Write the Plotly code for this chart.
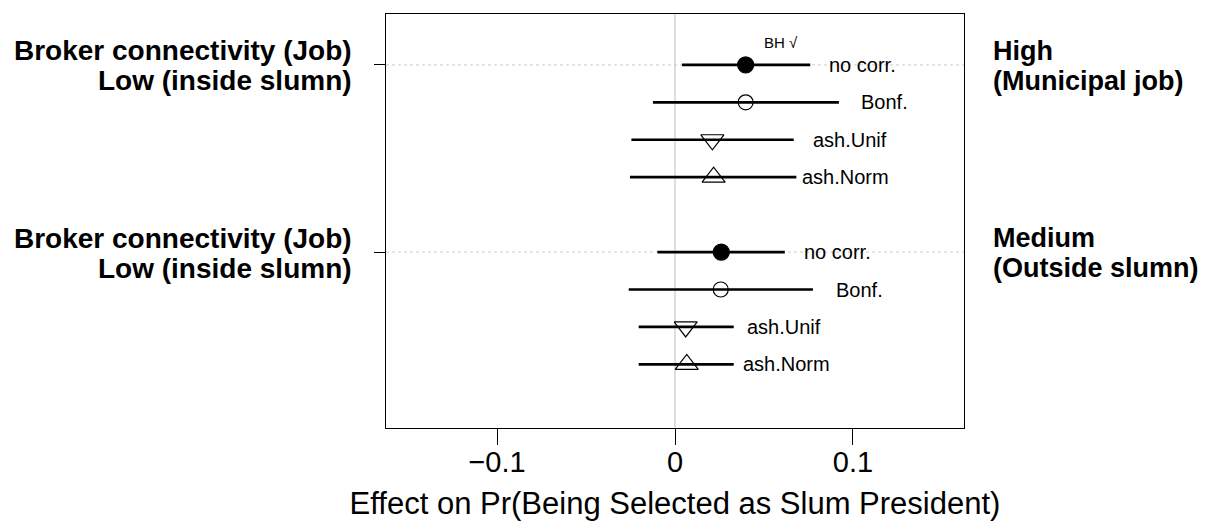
import plotly.graph_objects as go

methods = ["no corr.", "Bonf.", "ash.Unif", "ash.Norm"]
group_left = ["Broker connectivity (Job)", "Broker connectivity (Job)"]
group_left2 = ["Low (inside slumn)", "Low (inside slumn)"]
group_right = ["High", "Medium"]
group_right2 = ["(Municipal job)", "(Outside slumn)"]

est_high = [0.0397, 0.0397, 0.0210, 0.0217]
lo_high = [0.0039, -0.0124, -0.0245, -0.0253]
hi_high = [0.0760, 0.0921, 0.0667, 0.0682]

est_med = [0.0260, 0.0257, 0.0060, 0.0066]
lo_med = [-0.0099, -0.0260, -0.0204, -0.0204]
hi_med = [0.0617, 0.0775, 0.0330, 0.0330]

x_ticks = [-0.1, 0, 0.1]
x_ticktext = ["\u22120.1", "0", "0.1"]
x_title = "Effect on Pr(Being Selected as Slum President)"
bh_mark = "BH \u221a"

# styling
symbols = ["circle", "circle-open", "triangle-down-open", "triangle-up-open"]
msizes = [16, 15, 20, 20]
label_gap = [[17, 20, 17, 4], [17, 21, 11, 7]]
FONT = "Liberation Sans, Arial, sans-serif"

fig = go.Figure()
annotations = []
groups = [(est_high, lo_high, hi_high), (est_med, lo_med, hi_med)]
for g, (est, lo, hi) in enumerate(groups):
    for k in range(len(methods)):
        y = g * 5 + k
        fig.add_trace(go.Scatter(
            x=[est[k]], y=[y], mode="markers",
            marker=dict(symbol=symbols[k], size=msizes[k], color="black",
                        line=dict(color="black", width=1.2)),
            error_x=dict(type="data", symmetric=False,
                         array=[hi[k] - est[k]], arrayminus=[est[k] - lo[k]],
                         color="black", thickness=2.7, width=0),
            showlegend=False, hoverinfo="skip"))
        annotations.append(dict(x=hi[k], y=y, xref="x", yref="y", text=methods[k],
                                showarrow=False, xanchor="left", yanchor="middle",
                                xshift=label_gap[g][k],
                                font=dict(family=FONT, size=20, color="black")))
    y0 = g * 5
    annotations.append(dict(x=0, y=y0, xref="paper", yref="y", text=group_left[g],
                            showarrow=False, xanchor="right", yanchor="middle",
                            xshift=-32, yshift=14,
                            font=dict(family=FONT, size=28, color="black", weight="bold")))
    annotations.append(dict(x=0, y=y0, xref="paper", yref="y", text=group_left2[g],
                            showarrow=False, xanchor="right", yanchor="middle",
                            xshift=-32, yshift=-16,
                            font=dict(family=FONT, size=28, color="black", weight="bold")))
    annotations.append(dict(x=1, y=y0, xref="paper", yref="y", text=group_right[g],
                            showarrow=False, xanchor="left", yanchor="middle",
                            xshift=27, yshift=14,
                            font=dict(family=FONT, size=27, color="black", weight="bold")))
    annotations.append(dict(x=1, y=y0, xref="paper", yref="y", text=group_right2[g],
                            showarrow=False, xanchor="left", yanchor="middle",
                            xshift=27, yshift=-16,
                            font=dict(family=FONT, size=27, color="black", weight="bold")))

annotations.append(dict(x=est_high[0], y=0, xref="x", yref="y", text=bh_mark,
                        showarrow=False, xanchor="center", yanchor="middle",
                        xshift=35, yshift=22,
                        font=dict(family=FONT, size=15, color="black")))

shapes = [
    dict(type="line", xref="x", yref="paper", x0=0, x1=0, y0=0, y1=1,
         line=dict(color="#bdbdbd", width=1), layer="below"),
]
for g in range(2):
    shapes.append(dict(type="line", xref="paper", yref="y", x0=0, x1=1,
                       y0=g * 5, y1=g * 5,
                       line=dict(color="#cccccc", width=1, dash="dot"), layer="below"))

fig.update_layout(
    width=1210, height=525,
    margin=dict(l=378, r=254, t=6, b=105),
    plot_bgcolor="white", paper_bgcolor="white",
    font=dict(family=FONT, color="black"),
    annotations=annotations, shapes=shapes,
    xaxis=dict(range=[-0.1624, 0.1624], tickvals=x_ticks, ticktext=x_ticktext,
               ticks="outside", ticklen=16, tickwidth=1, tickcolor="black",
               ticklabelstandoff=-8,
               showgrid=False, zeroline=False, showline=True, mirror=True,
               linecolor="black", linewidth=1,
               tickfont=dict(family=FONT, size=29, color="black"),
               title=dict(text=x_title, font=dict(family=FONT, size=31, color="black"),
                          standoff=15)),
    yaxis=dict(range=[9.7, -1.36], tickvals=[0, 5], showticklabels=False,
               ticks="outside", ticklen=11, tickwidth=1, tickcolor="black",
               showgrid=False, zeroline=False, showline=True, mirror=True,
               linecolor="black", linewidth=1),
)

fig.write_html("out.html")
